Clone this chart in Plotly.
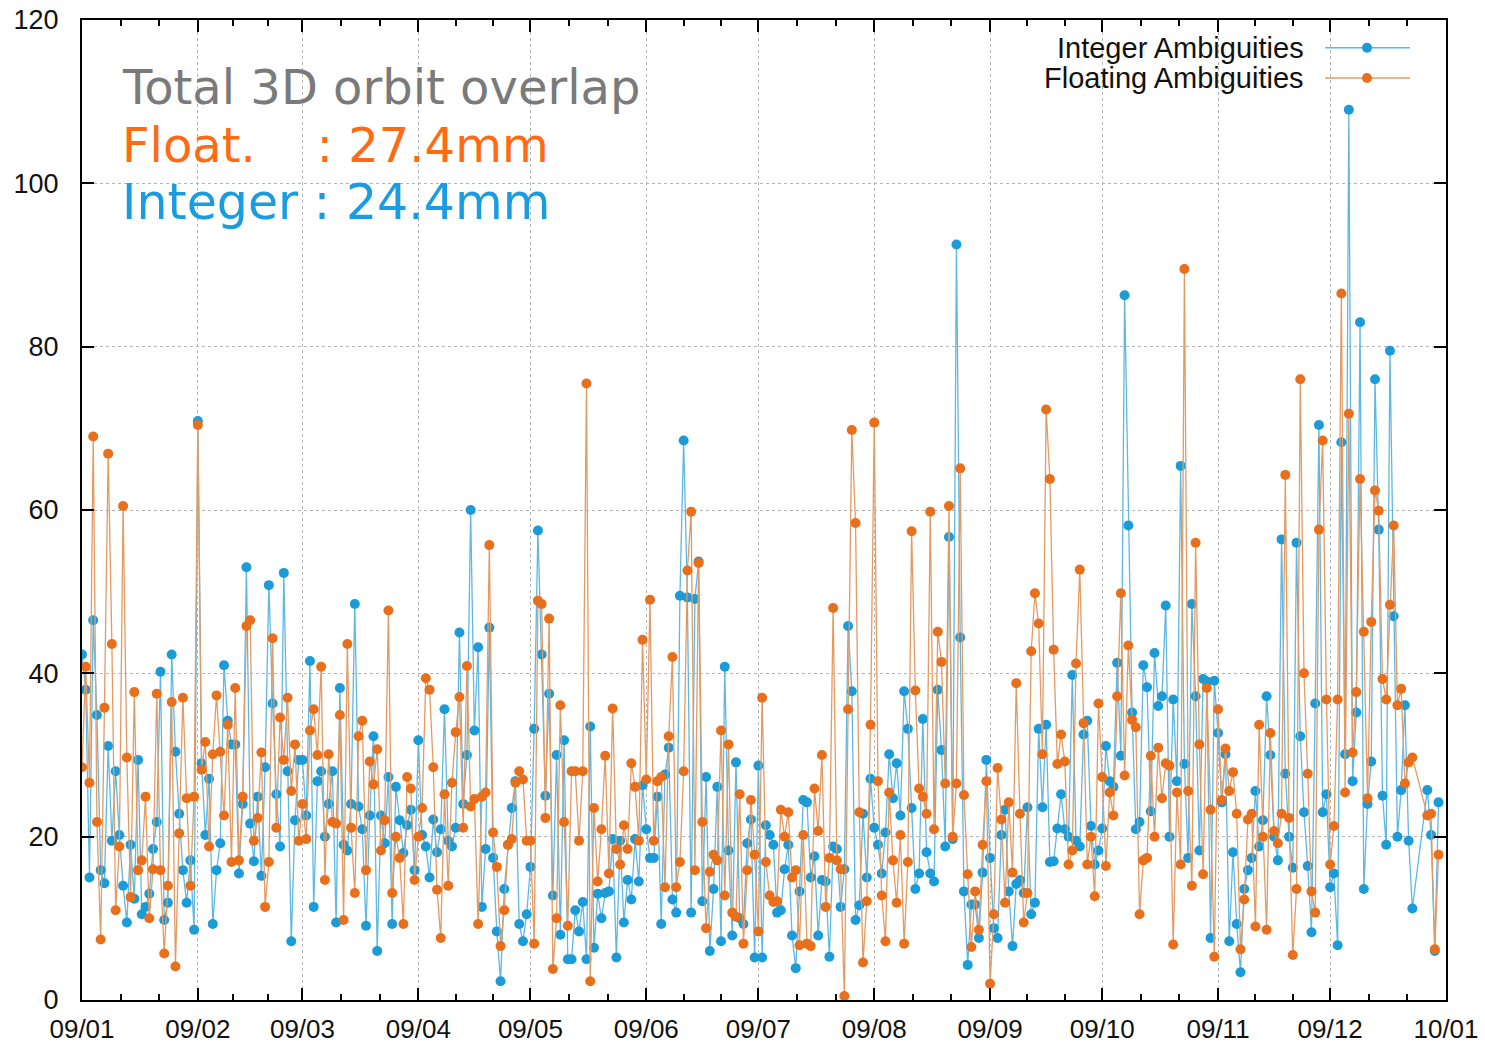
import pandas as pd
import plotly.graph_objects as go

# ---------------- data (mm) ----------------
int_jan = [42.3, 38, 15.0, 46.5, 34.9, 15.9, 14.3, 31.1, 19.5, 28.0, 20.2, 14.0, 9.5, 19.0, 12.4, 29.4,
           10.5, 11.4, 13, 18.5, 21.8, 40.2, 9.8, 11.9, 42.3, 30.4, 22.8, 15.9, 11.9, 17.1, 8.6]
flt_jan = [28.5, 40.8, 26.6, 69.0, 21.8, 7.4, 35.8, 66.9, 43.6, 11.0, 18.8, 60.5, 29.7, 12.6, 37.7, 15.9,
           17.1, 24.9, 10.0, 16, 37.5, 15.9, 5.7, 14.0, 36.5, 4.1, 20.4, 37.0, 24.7, 14.0, 24.9]
int_feb = [70.9, 29.0, 20.2, 27.1, 9.3, 15.9, 19.2, 41.0, 34.2, 31.3, 31.3, 15.5, 24, 53.0, 21.6, 17,
           24.9, 15.2, 28.5, 50.8, 36.3, 25.2, 18.8, 52.3, 28.0, 7.2, 22, 29.4]
flt_feb = [70.4, 28.2, 31.6, 18.8, 30.1, 37.3, 30.4, 22.6, 33.7, 16.9, 38.2, 17.1, 24.9, 45.8, 46.5, 19.5,
           22.3, 30.3, 11.4, 16.9, 44.3, 21.1, 34.6, 29.4, 37.0, 25.6, 31.3, 19.5]
int_mar = [29.4, 22.6, 41.5, 11.4, 26.8, 28, 20, 24, 28.0, 9.5, 38.2, 19.0, 18.3, 24.0, 48.5, 23.7,
           20.9, 9.1, 22.6, 32.3, 6.0, 22.6, 19.2, 27.3, 9.3, 26.1, 22, 18, 21.4, 23.3, 15.9]
flt_mar = [24, 19.7, 33.0, 35.6, 30, 40.8, 14.7, 30.1, 21.8, 21.6, 34.9, 9.8, 43.6, 21.1, 13.1, 32.3,
           34.2, 15.9, 29.2, 26.4, 30.7, 18.3, 22, 47.7, 13.1, 20.0, 17.4, 9.3, 27.3, 25.9, 14.7]
int_apr = [31.8, 20.2, 18.8, 15, 22.1, 18.1, 20.9, 35.6, 19.5, 18.8, 21.1, 45.0, 24.0, 30, 60.0, 33.0,
           43.2, 11.4, 18.5, 45.6, 17.4, 8.4, 2.3, 13.6, 19, 23.5, 26.8, 9.3, 7.2, 10.5]
flt_apr = [20, 23.5, 39.4, 38, 28.5, 13.5, 7.6, 25.2, 14.0, 26.6, 32.8, 37.1, 21.1, 40.9, 23.7, 24.6,
           9.3, 24.9, 25.4, 55.7, 20.5, 16.3, 6.6, 11.0, 19.0, 19.7, 26.6, 28.0, 27, 19.5]
int_may = [16.3, 33.2, 57.5, 42.3, 25, 37.5, 12.8, 30, 8.0, 31.8, 5.0, 5.0, 11, 8.4, 12.0, 5.0,
           33.5, 6.4, 13, 10, 13.1, 13.3, 19.7, 5.2, 19.5, 9.5, 14.7, 12.3, 19.7, 14.5, 26.3]
flt_may = [19.5, 6.9, 48.9, 48.5, 22.3, 46.7, 3.8, 10, 36.1, 21.8, 9.1, 28.0, 28, 19.5, 28.0, 75.5,
           2.3, 23.5, 14.5, 20.9, 29.9, 15.5, 35.7, 18.5, 16.6, 21.4, 18.5, 29.0, 26.1, 19.5, 44.1]
int_jun = [20.9, 17.4, 17.4, 24.9, 9.3, 27.6, 30.9, 12.3, 10.7, 49.5, 68.5, 49.3, 10.7, 49.1, 53.7,
           12.1, 27.3, 6.0, 13.6, 26.1, 7.2, 40.8, 18.3, 7.9, 29.1, 10.0, 9.3, 19.2, 22.1, 5.2]
flt_jun = [27, 49.0, 19.5, 26.8, 27.3, 13.8, 32.3, 42.0, 13.8, 16.9, 28.0, 52.6, 59.8, 15.9, 53.5,
           21.8, 8.8, 15.7, 17.8, 17.1, 33.0, 12.8, 31.3, 10.7, 10.2, 25.2, 6.9, 15.9, 24.5, 17.8]
int_jul = [28.7, 5.2, 21.4, 20.2, 19, 10.7, 11, 16, 19.0, 7.9, 3.9, 13.3, 24.5, 24.2, 15.0, 17.6,
           7.9, 14.7, 14.5, 5.3, 18.8, 18.5, 11.4, 16.0, 45.8, 37.8, 9.8, 11.6, 22.8, 15.0, 27.1]
flt_jul = [8.4, 37.0, 16.9, 12.8, 12, 12.1, 23.3, 20, 23, 15, 15.9, 6.7, 20.2, 6.9, 6.6, 25.9,
           20.7, 30.0, 11.4, 17.4, 48.0, 17.1, 16.0, 0.5, 35.6, 69.8, 58.4, 23.0, 4.6, 12.1, 33.7]
int_aug = [21.1, 19.0, 15.5, 20.5, 30.1, 24.7, 29.0, 22.6, 37.8, 33.2, 23.5, 13.6, 15.5, 34.4, 18.1,
           15.5, 14.5, 38.0, 30.6, 18.8, 56.7, 19.7, 92.5, 44.4, 13.3, 4.3, 11.7, 11.7, 7.6, 15.6, 29.4]
flt_aug = [70.7, 26.8, 12.8, 7.2, 25.4, 17.1, 11.9, 20.2, 6.9, 16.9, 57.4, 37.9, 25.9, 24.9, 22.8,
           59.8, 20.9, 45.1, 41.4, 26.5, 60.5, 20.0, 26.5, 65.1, 25.1, 15.4, 6.5, 13.3, 8.6, 19.0, 26.8]
int_sep = [17.4, 8.8, 7.6, 20.2, 23.3, 13.3, 6.6, 14.2, 14.7, 13.1, 23.6, 10.5, 11.9, 33.2, 23.6,
           33.7, 16.9, 17, 21, 25.2, 20.9, 20.0, 39.8, 19.5, 18.8, 32.5, 34.2, 21.3, 16.6, 18.3]
flt_sep = [2, 10.5, 28.4, 22.1, 11.9, 24.2, 15.6, 38.8, 22.8, 9.5, 13.1, 42.7, 49.8, 46.1, 30.1,
           72.3, 63.8, 42.9, 28.9, 32.5, 29.2, 16.6, 18.3, 41.2, 52.7, 33.9, 16.6, 20.0, 12.7, 36.3]
int_oct = [21, 31.1, 26.8, 26.1, 41.3, 29.9, 86.3, 58.1, 35.2, 20.9, 21.8, 41.0, 38.3, 23.1, 42.5,
           36.0, 37.2, 48.3, 20.0, 36.8, 26.8, 65.4, 28.9, 17.4, 48.5, 37.2, 18.3, 39.3, 39, 7.6, 39.1]
flt_oct = [27.3, 16.4, 25.4, 22.6, 37.2, 49.8, 27.5, 43.4, 34.3, 33.4, 10.5, 17.1, 17.4, 29.9, 20.0,
           30.9, 24.7, 29.0, 28.7, 6.8, 25.4, 16.6, 89.5, 25.6, 14.0, 56.0, 31.3, 15.4, 38.2, 23.3, 5.3]
int_nov = [32.7, 24.2, 30.1, 7.2, 18.1, 9.3, 3.4, 13.6, 15.9, 17.4, 25.6, 18.8, 22, 37.2, 30,
           20, 17.1, 56.4, 27.7, 20.0, 16.2, 56.0, 32.3, 23.0, 16.4, 8.3, 36.3, 70.4, 23.0, 25.2]
flt_nov = [35.6, 24.5, 30.8, 25.6, 27.9, 22.8, 6.2, 12.3, 22.1, 22.8, 9.0, 33.7, 20.0, 8.6, 32.7,
           20.7, 19.2, 22.8, 64.3, 22.3, 5.5, 13.6, 76, 40.0, 27.7, 13.3, 10.7, 57.6, 68.5, 36.8]
int_dec = [13.8, 15.5, 6.7, 68.3, 30.1, 109, 26.8, 35.2, 83, 13.6, 24, 29.2, 76, 57.6, 25, 19.0,
           79.5, 47.0, 20.0, 25.7, 36.1, 19.5, 11.2, None, None, None, 25.7, 20.2, 6, 24.2, None]
flt_dec = [16.6, 21.3, 36.8, 86.5, 25.4, 71.8, 30.3, 37.7, 63.8, 45.1, 24.7, 46.3, 62.4, 59.9, 39.3,
           36.8, 48.4, 58.1, 36.1, 38.1, 26.5, 29.1, 29.7, None, None, None, 22.6, 22.8, 6.2, 17.8, None]

integer_vals = (int_jan + int_feb + int_mar + int_apr + int_may + int_jun +
                int_jul + int_aug + int_sep + int_oct + int_nov + int_dec)
float_vals = (flt_jan + flt_feb + flt_mar + flt_apr + flt_may + flt_jun +
              flt_jul + flt_aug + flt_sep + flt_oct + flt_nov + flt_dec)
days = pd.date_range("2009-01-01", periods=len(integer_vals), freq="D")

month_starts = pd.date_range("2009-01-01", "2010-01-01", freq="MS")
tick_text = [d.strftime("%y/%m") for d in month_starts]
minor_ticks = []
for a, b in zip(month_starts[:-1], month_starts[1:]):
    minor_ticks += [a + (b - a) / 3, a + 2 * (b - a) / 3]

legend_names = ["Integer Ambiguities", "Floating Ambiguities"]
summary_title = "Total 3D orbit overlap"
summary_float = "Float.\u00a0\u00a0\u00a0 : 27.4mm"
summary_int = "Integer : 24.4mm"

# ---------------- styling ----------------
BLUE = "#1b9bd7"
BLUE_LINE = "#5fb8e3"
ORANGE = "#e8701c"
ORANGE_LINE = "#e49a63"
YTICKFONT = dict(family="Liberation Sans, Arial", size=27, color="#111")
XTICKFONT = dict(family="Liberation Sans, Arial", size=26, color="#111")

fig = go.Figure()
fig.add_trace(go.Scatter(x=days, y=integer_vals, mode="lines+markers", name=legend_names[0],
                         connectgaps=True, line=dict(color=BLUE_LINE, width=1.3),
                         marker=dict(color=BLUE, size=10, line=dict(width=0)), showlegend=False))
fig.add_trace(go.Scatter(x=days, y=float_vals, mode="lines+markers", name=legend_names[1],
                         connectgaps=True, line=dict(color=ORANGE_LINE, width=1.3),
                         marker=dict(color=ORANGE, size=10, line=dict(width=0)), showlegend=False))

fig.update_layout(
    width=1485, height=1046,
    margin=dict(l=82, r=39, t=20, b=46, autoexpand=False),
    paper_bgcolor="white", plot_bgcolor="white",
    showlegend=False,
)
fig.update_xaxes(
    range=[month_starts[0], month_starts[-1]],
    tickmode="array", tickvals=list(month_starts), ticktext=tick_text,
    ticks="inside", ticklen=12, tickwidth=1.5, tickcolor="black",
    minor=dict(tickmode="array", tickvals=minor_ticks, ticks="inside", ticklen=6,
               tickcolor="black", showgrid=False),
    showline=True, linecolor="black", linewidth=2, mirror="allticks",
    showgrid=True, gridcolor="#b5b5b5", griddash="dot", gridwidth=1,
    tickfont=XTICKFONT, zeroline=False, automargin=False, ticklabelstandoff=5,
    ticklabeloverflow="allow",
)
fig.update_yaxes(
    range=[0, 120], tickmode="array", tickvals=[0, 20, 40, 60, 80, 100, 120],
    ticks="inside", ticklen=12, tickwidth=1.5, tickcolor="black",
    showline=True, linecolor="black", linewidth=2, mirror="allticks",
    showgrid=True, gridcolor="#b5b5b5", griddash="dot", gridwidth=1,
    tickfont=YTICKFONT, zeroline=False, automargin=False, ticklabelstandoff=16,
    ticklabeloverflow="allow",
)

# summary text block
ann_font = "DejaVu Sans, Verdana, sans-serif"
fig.add_annotation(xref="paper", yref="y", x=0.028, y=111.8, xanchor="left", yanchor="middle",
                   text=summary_title, showarrow=False, font=dict(family=ann_font, size=48, color="#7a7a7a"))
fig.add_annotation(xref="paper", yref="y", x=0.028, y=104.7, xanchor="left", yanchor="middle",
                   text=summary_float, showarrow=False, font=dict(family=ann_font, size=48, color="#ff6a13"))
fig.add_annotation(xref="paper", yref="y", x=0.028, y=97.6, xanchor="left", yanchor="middle",
                   text=summary_int, showarrow=False, font=dict(family=ann_font, size=49, color="#1a9de0"))

# gnuplot-style legend (text, then sample)
leg_y = [116.6, 112.9]
leg_cols = [(BLUE_LINE, BLUE), (ORANGE_LINE, ORANGE)]
for name, yv, (lc, mc) in zip(legend_names, leg_y, leg_cols):
    fig.add_annotation(xref="paper", yref="y", x=0.8974, y=yv, xanchor="right", yanchor="middle",
                       text=name, showarrow=False,
                       font=dict(family="Liberation Sans, Arial", size=29, color="#111"))
    fig.add_shape(type="line", xref="paper", yref="y", x0=0.9113, x1=0.9736, y0=yv, y1=yv,
                  line=dict(color=lc, width=1.3))
    fig.add_shape(type="circle", xref="paper", yref="y", xsizemode="pixel", ysizemode="pixel",
                  xanchor=0.9421, yanchor=yv, x0=-5, x1=5, y0=-5, y1=5,
                  fillcolor=mc, line=dict(width=0))

# remove the page's default 8px body margin so the figure fills the window exactly
fig.write_html("out.html",
               config={"displayModeBar": False},
               post_script="document.body.style.margin='0';document.body.style.overflow='hidden';")
